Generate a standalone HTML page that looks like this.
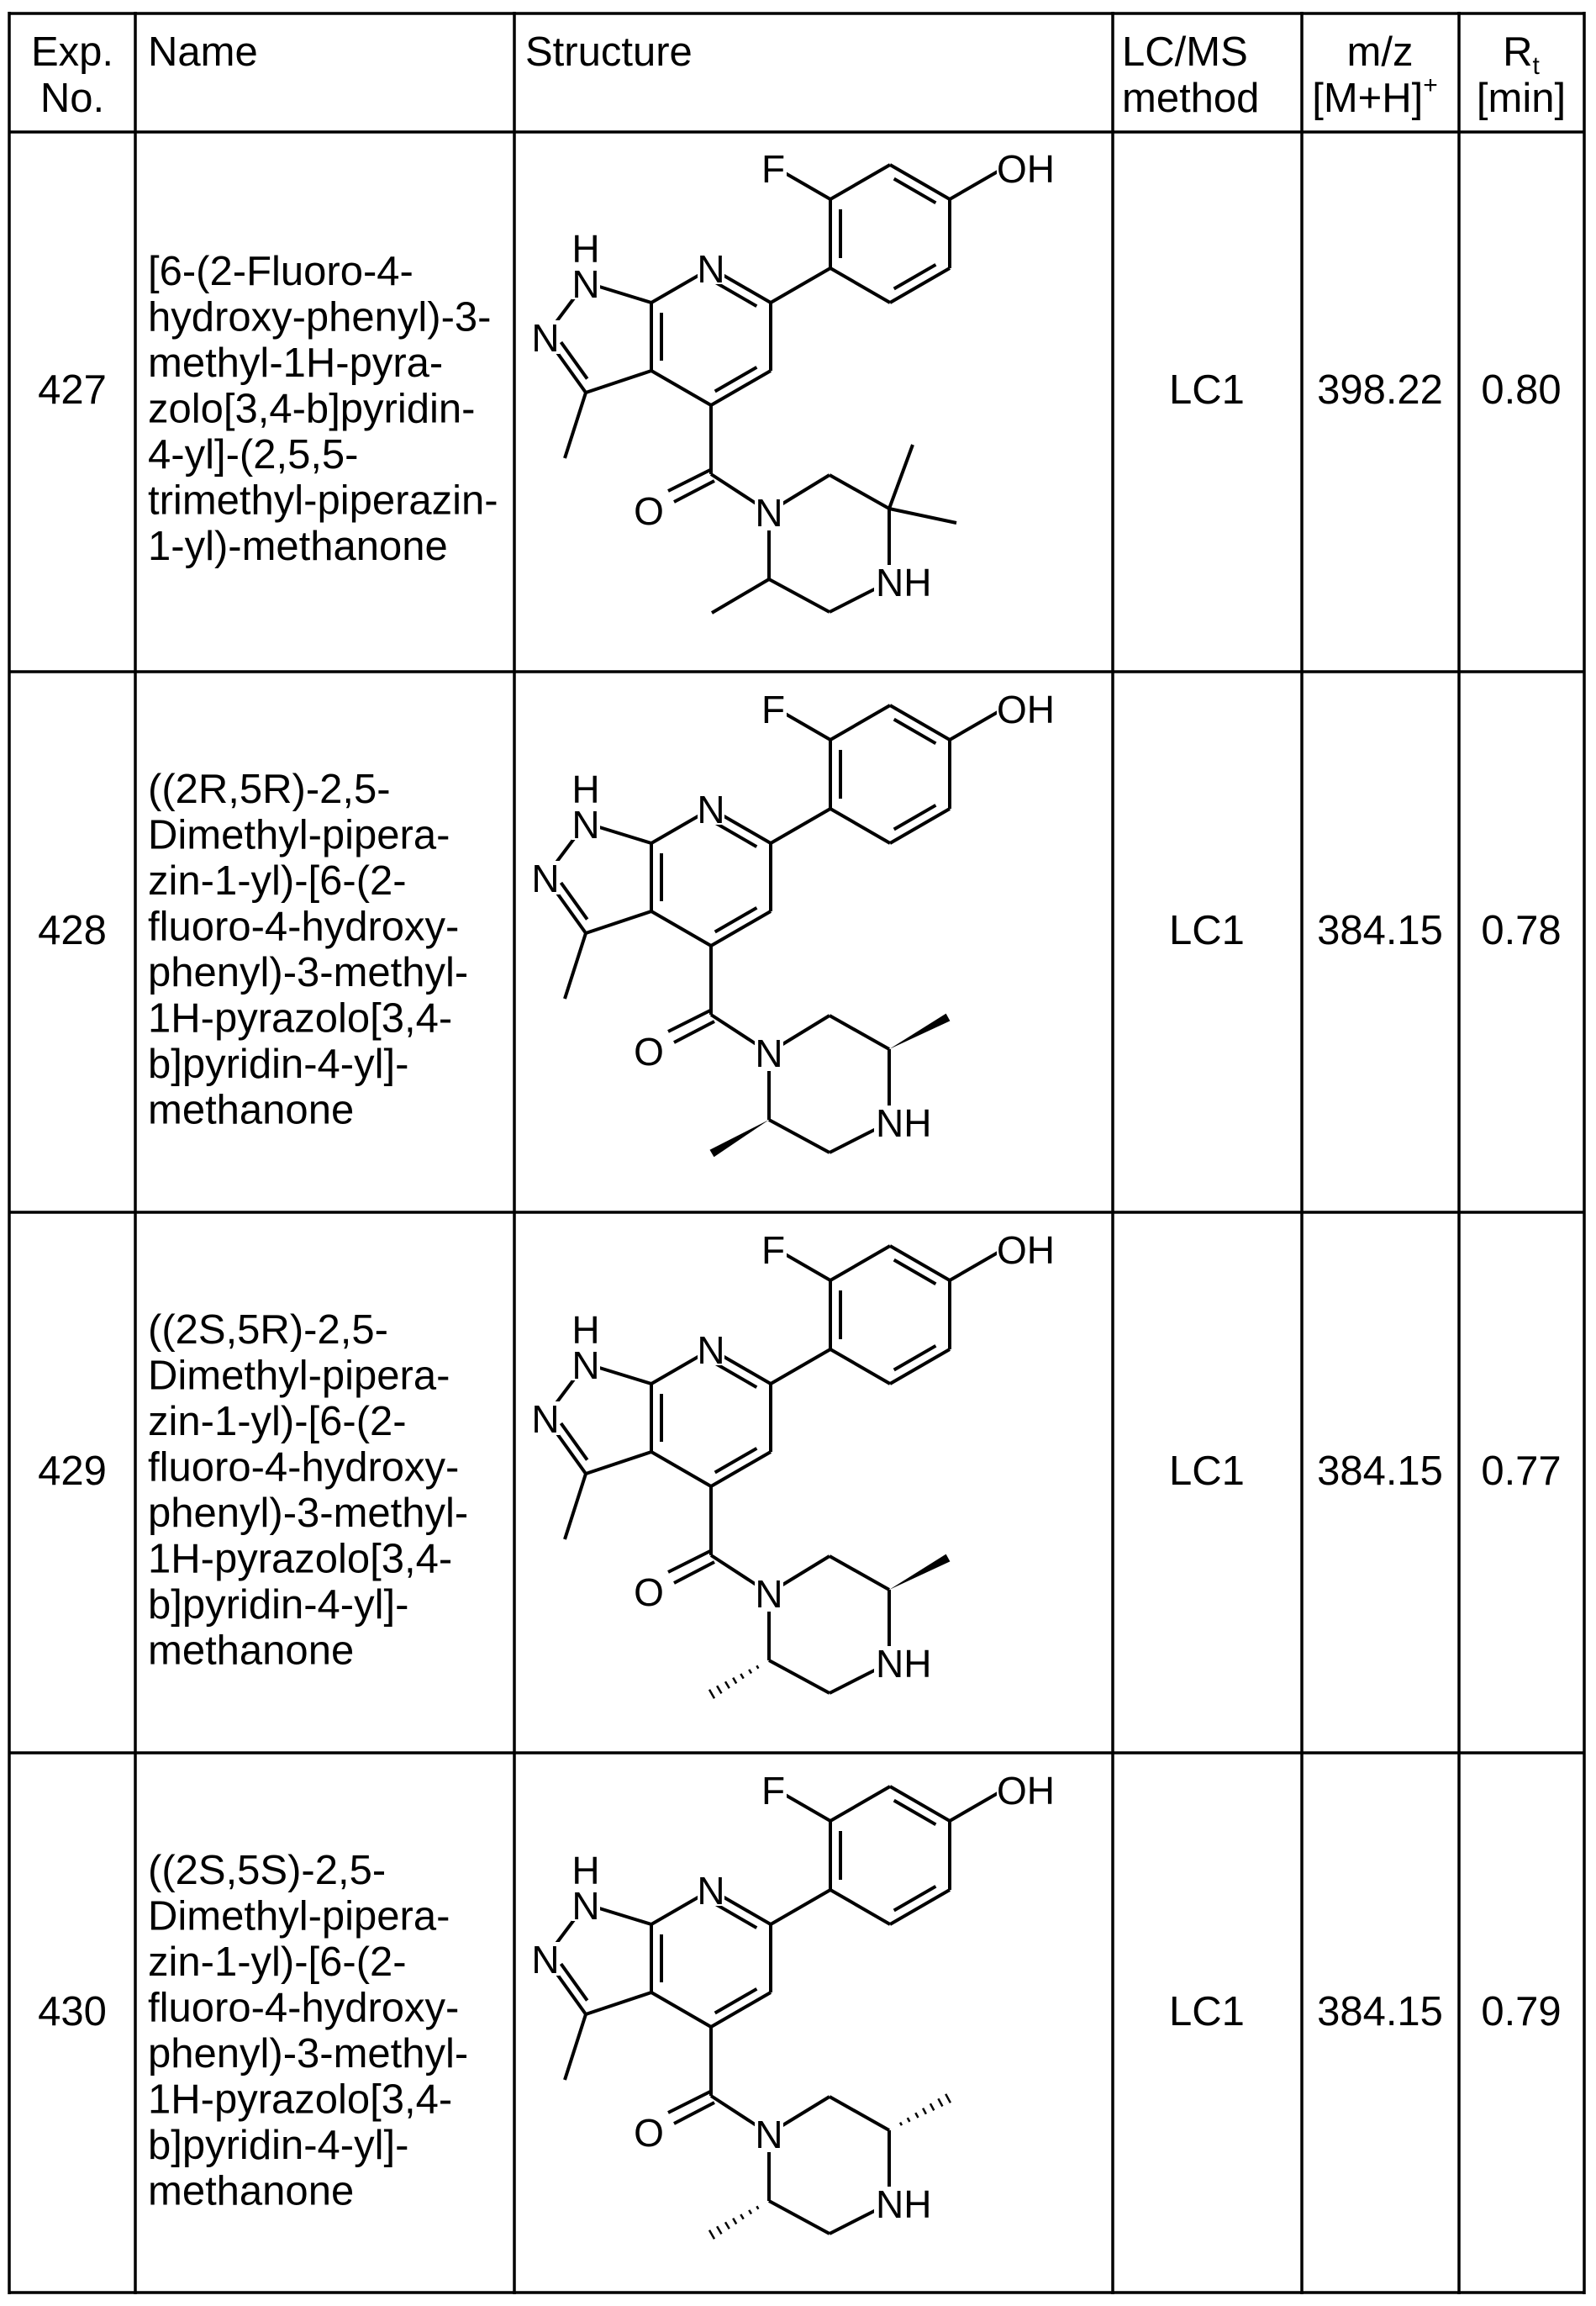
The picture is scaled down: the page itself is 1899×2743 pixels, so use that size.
<!DOCTYPE html>
<html><head><meta charset="utf-8"><style>
html,body{margin:0;padding:0;background:#fff;}
svg{display:block;}
text{font-family:"Liberation Sans",Arial,sans-serif;fill:#000;}
.t{font-size:49px;}
.a{font-size:46px;}
</style></head><body>
<svg width="1899" height="2743" viewBox="0 0 1899 2743" xmlns="http://www.w3.org/2000/svg">
<defs>
<g id="b" stroke="#000" stroke-width="4" fill="none" stroke-linecap="butt">
 <!-- pyridine -->
 <line x1="846" y1="319" x2="917" y2="360"/>
 <line x1="917" y1="360" x2="917" y2="441"/>
 <line x1="917" y1="441" x2="846" y2="482"/>
 <line x1="846" y1="482" x2="775" y2="441"/>
 <line x1="775" y1="441" x2="775" y2="360"/>
 <line x1="775" y1="360" x2="846" y2="319"/>
 <line x1="787" y1="372" x2="787" y2="429"/>
 <line x1="850.6" y1="335.5" x2="900.3" y2="364.2"/>
 <line x1="900.4" y1="436.8" x2="850.7" y2="465.5"/>
 <!-- pyrazole -->
 <line x1="775" y1="360" x2="697" y2="336"/>
 <line x1="697" y1="336" x2="649" y2="400"/>
 <line x1="649" y1="400" x2="697" y2="467"/>
 <line x1="697" y1="467" x2="775" y2="441"/>
 <line x1="667.5" y1="407" x2="698.7" y2="450.6"/>
 <line x1="697" y1="467" x2="672" y2="545"/>
 <!-- phenyl -->
 <line x1="917" y1="360" x2="988" y2="319"/>
 <line x1="988" y1="319" x2="988" y2="237"/>
 <line x1="988" y1="237" x2="1059" y2="196"/>
 <line x1="1059" y1="196" x2="1130" y2="237"/>
 <line x1="1130" y1="237" x2="1130" y2="319"/>
 <line x1="1130" y1="319" x2="1059" y2="360"/>
 <line x1="1059" y1="360" x2="988" y2="319"/>
 <line x1="1000" y1="249" x2="1000" y2="307"/>
 <line x1="1063.7" y1="212.6" x2="1113.4" y2="241.3"/>
 <line x1="1113.4" y1="314.8" x2="1063.7" y2="343.5"/>
 <line x1="988" y1="237" x2="917" y2="196"/>
 <line x1="1130" y1="237" x2="1201" y2="196"/>
 <!-- carbonyl -->
 <line x1="846" y1="482" x2="846" y2="564"/>
 <line x1="845" y1="559" x2="795" y2="584"/>
 <line x1="850" y1="572" x2="802" y2="597"/>
 <line x1="846" y1="564" x2="915" y2="609"/>
 <!-- piperazine -->
 <line x1="915" y1="609" x2="987" y2="565"/>
 <line x1="987" y1="565" x2="1058" y2="605"/>
 <line x1="1058" y1="605" x2="1058" y2="692"/>
 <line x1="1058" y1="692" x2="987" y2="728"/>
 <line x1="987" y1="728" x2="915" y2="689"/>
 <line x1="915" y1="689" x2="915" y2="609"/>
 <!-- masks -->
 <g fill="#fff" stroke="none">
  <rect x="830" y="298" width="32" height="40"/>
  <rect x="680" y="272" width="34" height="84"/>
  <rect x="632" y="381" width="34" height="40"/>
  <rect x="904" y="180" width="32" height="40"/>
  <rect x="1186" y="180" width="76" height="40"/>
  <rect x="754" y="587" width="36" height="42"/>
  <rect x="898" y="589" width="34" height="42"/>
  <rect x="1040" y="672" width="66" height="42"/>
 </g>
</g>
<g id="hc5" stroke="#000" stroke-width="2.5">
 <line x1="1071.05" y1="595.65" x2="1072.95" y2="599.15"/>
 <line x1="1079.8" y1="590.1" x2="1082.4" y2="594.9"/>
 <line x1="1089.3" y1="584.2" x2="1092.5" y2="590"/>
 <line x1="1098.1" y1="578.7" x2="1101.9" y2="585.7"/>
 <line x1="1106.9" y1="573.2" x2="1111.3" y2="581.4"/>
 <line x1="1116.4" y1="567.3" x2="1121.4" y2="576.5"/>
 <line x1="1125.2" y1="561.8" x2="1130.9" y2="572.3"/>
</g>
<g id="hc2" stroke="#000" stroke-width="2.5">
 <line x1="900.4" y1="695.3" x2="902.4" y2="698.7"/>
 <line x1="891.2" y1="699.9" x2="894" y2="704.5"/>
 <line x1="881.3" y1="705" x2="884.7" y2="710.6"/>
 <line x1="872.2" y1="709.6" x2="876.2" y2="716.5"/>
 <line x1="863" y1="714.2" x2="867.8" y2="722.3"/>
 <line x1="853.1" y1="719.2" x2="858.5" y2="728.4"/>
 <line x1="844" y1="723.8" x2="850" y2="734.2"/>
</g>
<polygon id="wc5" points="1058,605 1130.4,571.4 1125.6,562.6" fill="#000"/>
<polygon id="wc2" points="915,689 849.5,733.3 844.5,724.7" fill="#000"/>
</defs>

<!-- table grid -->
<g stroke="#000" stroke-width="3.5">
 <line x1="11" y1="16" x2="1885" y2="16"/>
 <line x1="11" y1="157" x2="1885" y2="157"/>
 <line x1="11" y1="799" x2="1885" y2="799"/>
 <line x1="11" y1="1442" x2="1885" y2="1442"/>
 <line x1="11" y1="2085" x2="1885" y2="2085"/>
 <line x1="11" y1="2727" x2="1885" y2="2727"/>
 <line x1="11" y1="14" x2="11" y2="2729"/>
 <line x1="161" y1="14" x2="161" y2="2729"/>
 <line x1="612" y1="14" x2="612" y2="2729"/>
 <line x1="1324" y1="14" x2="1324" y2="2729"/>
 <line x1="1549" y1="14" x2="1549" y2="2729"/>
 <line x1="1736" y1="14" x2="1736" y2="2729"/>
 <line x1="1885" y1="14" x2="1885" y2="2729"/>
</g>

<!-- header -->
<g class="t">
 <text x="86" y="78" text-anchor="middle">Exp.</text>
 <text x="86" y="133" text-anchor="middle">No.</text>
 <text x="176" y="78">Name</text>
 <text x="625" y="78">Structure</text>
 <text x="1335" y="78">LC/MS</text>
 <text x="1335" y="133">method</text>
 <text x="1642" y="78" text-anchor="middle">m/z</text>
 <text x="1636" y="133" text-anchor="middle">[M+H]<tspan font-size="30" dy="-22">+</tspan></text>
 <text x="1810" y="78" text-anchor="middle">R<tspan font-size="30" dy="10">t</tspan></text>
 <text x="1810" y="133" text-anchor="middle">[min]</text>
</g>

<!-- rows data -->
<g class="t" text-anchor="middle">
 <text x="86" y="480">427</text><text x="1436" y="480">LC1</text><text x="1642" y="480">398.22</text><text x="1810" y="480">0.80</text>
 <text x="86" y="1123">428</text><text x="1436" y="1123">LC1</text><text x="1642" y="1123">384.15</text><text x="1810" y="1123">0.78</text>
 <text x="86" y="1766">429</text><text x="1436" y="1766">LC1</text><text x="1642" y="1766">384.15</text><text x="1810" y="1766">0.77</text>
 <text x="86" y="2409">430</text><text x="1436" y="2409">LC1</text><text x="1642" y="2409">384.15</text><text x="1810" y="2409">0.79</text>
</g>

<!-- names -->
<text class="t" x="176" y="339">
 <tspan x="176" y="339">[6-(2-Fluoro-4-</tspan>
 <tspan x="176" dy="54.5">hydroxy-phenyl)-3-</tspan>
 <tspan x="176" dy="54.5">methyl-1H-pyra-</tspan>
 <tspan x="176" dy="54.5">zolo[3,4-b]pyridin-</tspan>
 <tspan x="176" dy="54.5">4-yl]-(2,5,5-</tspan>
 <tspan x="176" dy="54.5">trimethyl-piperazin-</tspan>
 <tspan x="176" dy="54.5">1-yl)-methanone</tspan>
</text>
<text class="t" x="176" y="955">
 <tspan x="176" y="955">((2R,5R)-2,5-</tspan>
 <tspan x="176" dy="54.5">Dimethyl-pipera-</tspan>
 <tspan x="176" dy="54.5">zin-1-yl)-[6-(2-</tspan>
 <tspan x="176" dy="54.5">fluoro-4-hydroxy-</tspan>
 <tspan x="176" dy="54.5">phenyl)-3-methyl-</tspan>
 <tspan x="176" dy="54.5">1H-pyrazolo[3,4-</tspan>
 <tspan x="176" dy="54.5">b]pyridin-4-yl]-</tspan>
 <tspan x="176" dy="54.5">methanone</tspan>
</text>
<text class="t" x="176" y="1598">
 <tspan x="176" y="1598">((2S,5R)-2,5-</tspan>
 <tspan x="176" dy="54.5">Dimethyl-pipera-</tspan>
 <tspan x="176" dy="54.5">zin-1-yl)-[6-(2-</tspan>
 <tspan x="176" dy="54.5">fluoro-4-hydroxy-</tspan>
 <tspan x="176" dy="54.5">phenyl)-3-methyl-</tspan>
 <tspan x="176" dy="54.5">1H-pyrazolo[3,4-</tspan>
 <tspan x="176" dy="54.5">b]pyridin-4-yl]-</tspan>
 <tspan x="176" dy="54.5">methanone</tspan>
</text>
<text class="t" x="176" y="2241">
 <tspan x="176" y="2241">((2S,5S)-2,5-</tspan>
 <tspan x="176" dy="54.5">Dimethyl-pipera-</tspan>
 <tspan x="176" dy="54.5">zin-1-yl)-[6-(2-</tspan>
 <tspan x="176" dy="54.5">fluoro-4-hydroxy-</tspan>
 <tspan x="176" dy="54.5">phenyl)-3-methyl-</tspan>
 <tspan x="176" dy="54.5">1H-pyrazolo[3,4-</tspan>
 <tspan x="176" dy="54.5">b]pyridin-4-yl]-</tspan>
 <tspan x="176" dy="54.5">methanone</tspan>
</text>

<!-- structures -->
<use href="#b" x="0" y="0"/>
<use href="#b" x="0" y="643"/>
<use href="#b" x="0" y="1286"/>
<use href="#b" x="0" y="1929"/>

<!-- row1 methyls -->
<g stroke="#000" stroke-width="4">
 <line x1="1058" y1="605" x2="1086" y2="529"/>
 <line x1="1058" y1="605" x2="1138" y2="622"/>
 <line x1="915" y1="689" x2="847" y2="729"/>
</g>
<!-- row2 -->
<use href="#wc5" x="0" y="643"/>
<use href="#wc2" x="0" y="643"/>
<!-- row3 -->
<use href="#wc5" x="0" y="1286"/>
<use href="#hc2" x="0" y="1286"/>
<!-- row4 -->
<use href="#hc5" x="0" y="1929"/>
<use href="#hc2" x="0" y="1929"/>

<!-- atom labels -->
<g class="a" text-anchor="middle">
 <text x="846" y="336">N</text><text x="697" y="312">H</text><text x="697" y="354">N</text><text x="649" y="418">N</text>
 <text x="920" y="217">F</text><text x="772" y="624">O</text><text x="915" y="626">N</text>
 <text x="846" y="979">N</text><text x="697" y="955">H</text><text x="697" y="997">N</text><text x="649" y="1061">N</text>
 <text x="920" y="860">F</text><text x="772" y="1267">O</text><text x="915" y="1269">N</text>
 <text x="846" y="1622">N</text><text x="697" y="1598">H</text><text x="697" y="1640">N</text><text x="649" y="1704">N</text>
 <text x="920" y="1503">F</text><text x="772" y="1910">O</text><text x="915" y="1912">N</text>
 <text x="846" y="2265">N</text><text x="697" y="2241">H</text><text x="697" y="2283">N</text><text x="649" y="2347">N</text>
 <text x="920" y="2146">F</text><text x="772" y="2553">O</text><text x="915" y="2555">N</text>
</g>
<g class="a">
 <text x="1186" y="217">OH</text><text x="1042" y="709">NH</text>
 <text x="1186" y="860">OH</text><text x="1042" y="1352">NH</text>
 <text x="1186" y="1503">OH</text><text x="1042" y="1995">NH</text>
 <text x="1186" y="2146">OH</text><text x="1042" y="2638">NH</text>
</g>
</svg>
</body></html>
